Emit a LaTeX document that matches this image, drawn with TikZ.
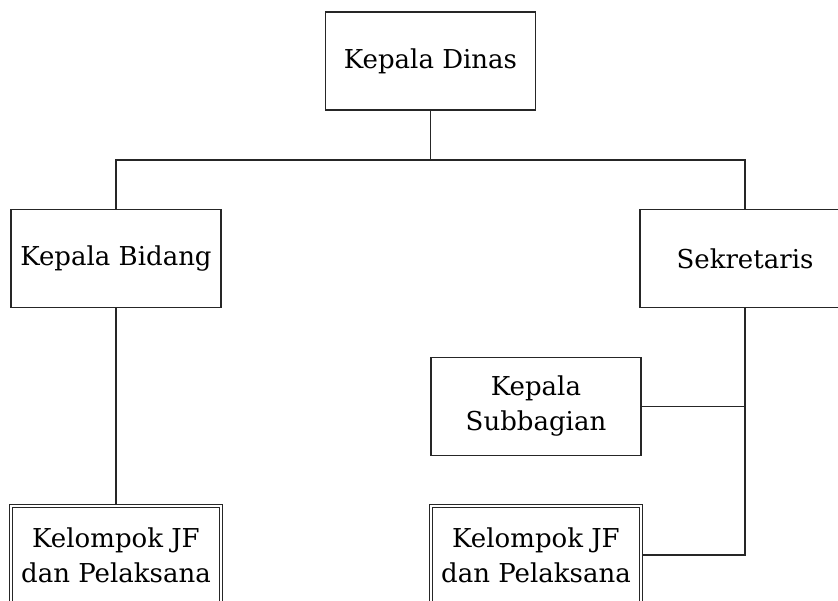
\documentclass[tikz,border=0pt]{standalone}
\usepackage{fontspec}
\setmainfont{DejaVu Serif}
\begin{document}
\begin{tikzpicture}[x=1pt,y=-1pt,
  unit/.style={draw=black!85, line width=1.6pt, minimum width=210pt, minimum height=98pt,
    inner sep=0pt, align=center, font=\fontsize{26}{35}\selectfont},
  group/.style={unit, double, double distance=2.6pt, line width=1.1pt},
  link/.style={draw=black!85, line width=1.6pt}]
  % canvas
  \clip (0,0) rectangle (838,600);

  % boxes
  \node[unit] (dinas) at (430.5,61) {Kepala Dinas};
  \node[unit] (bidang) at (116,258.5) {Kepala Bidang};
  \node[unit] (sekr) at (745,258.5) {Sekretaris};
  \node[unit] (subbag) at (536,406.5) {Kepala\\Subbagian};
  \node[group] (jfl) at (116,555) {Kelompok JF\\dan Pelaksana};
  \node[group] (jfr) at (536,555) {Kelompok JF\\dan Pelaksana};

  % bus level under the head of office
  \coordinate (bus) at (0,160);

  % connectors
  \draw[link] (dinas.south) -- (dinas.south |- bus);
  \draw[link] (bidang.north) -- (bidang.north |- bus) -- (sekr.north |- bus) -- (sekr.north);
  \draw[link] (bidang.south) -- (jfl.north);
  \draw[link] (sekr.south) -- (sekr.south |- jfr.east) -- (jfr.east);
  \draw[link] (subbag.east) -- (subbag.east -| sekr.south);
\end{tikzpicture}
\end{document}
